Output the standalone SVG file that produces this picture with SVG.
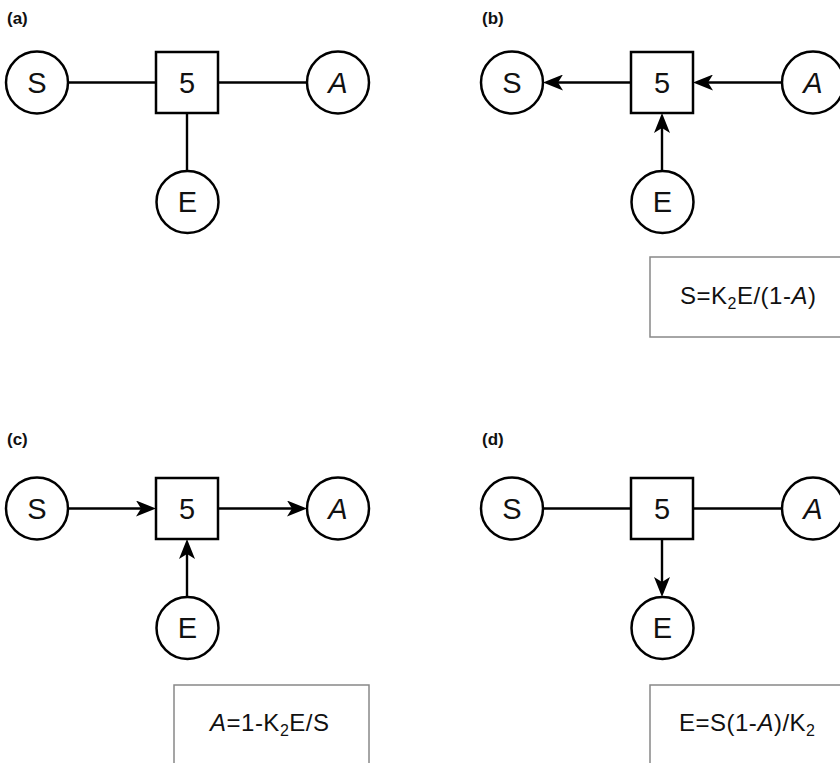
<svg xmlns="http://www.w3.org/2000/svg" width="840" height="763" viewBox="0 0 840 763">
<style>
.bg{fill:#fff}
.c{fill:#fff;stroke:#000;stroke-width:2.5}
.sq{fill:#fff;stroke:#000;stroke-width:2.5}
.ln{stroke:#000;stroke-width:2.4;fill:none}
.arr{marker-end:url(#ah)}
.nt{font-family:"Liberation Sans",Arial,sans-serif;font-size:29px;text-anchor:middle;fill:#111}
.it{font-style:italic}
.lab{font-family:"Liberation Sans",Arial,sans-serif;font-size:17px;font-weight:bold;fill:#111}
.box{fill:#fff;stroke:#888;stroke-width:1.5}
.eq{font-family:"Liberation Sans",Arial,sans-serif;font-size:24px;letter-spacing:0.5px;fill:#111}
</style>
<defs>
<marker id="ah" markerUnits="userSpaceOnUse" markerWidth="20" markerHeight="16" viewBox="0 0 20 16" refX="12" refY="8" orient="auto">
<path d="M0,0 L20,8 L0,16 L5,8 Z" fill="#000"/>
</marker>
</defs>
<rect class="bg" x="0" y="0" width="840" height="763"/>

<g id="connectors">
<!-- (a) -->
<line class="ln" x1="68" y1="82.5" x2="156" y2="82.5"/>
<line class="ln" x1="218" y1="82.5" x2="307" y2="82.5"/>
<line class="ln" x1="187" y1="113" x2="187" y2="171"/>
<!-- (b) -->
<line class="ln arr" x1="631" y1="82.5" x2="551" y2="82.5"/>
<line class="ln arr" x1="782" y1="82.5" x2="701" y2="82.5"/>
<line class="ln arr" x1="662" y1="171" x2="662" y2="121"/>
<!-- (c) -->
<line class="ln arr" x1="68" y1="508.5" x2="148" y2="508.5"/>
<line class="ln arr" x1="218" y1="508.5" x2="299" y2="508.5"/>
<line class="ln arr" x1="187" y1="597" x2="187" y2="547"/>
<!-- (d) -->
<line class="ln" x1="543" y1="508.5" x2="631" y2="508.5"/>
<line class="ln" x1="693" y1="508.5" x2="782" y2="508.5"/>
<line class="ln arr" x1="662" y1="539" x2="662" y2="589"/>
</g>

<g id="panel-a">
<text class="lab" x="7" y="24">(a)</text>
<g id="a-S"><circle class="c" cx="37" cy="82.5" r="31"/><text class="nt" x="37" y="93">S</text></g>
<g id="a-5"><rect class="sq" x="156" y="52" width="62" height="61"/><text class="nt" x="187" y="93">5</text></g>
<g id="a-A"><circle class="c" cx="338" cy="82.5" r="31"/><text class="nt it" x="338" y="93">A</text></g>
<g id="a-E"><circle class="c" cx="187.5" cy="202" r="31"/><text class="nt" x="187.5" y="212">E</text></g>
</g>

<g id="panel-b">
<text class="lab" x="482" y="24">(b)</text>
<g id="b-S"><circle class="c" cx="512" cy="82.5" r="31"/><text class="nt" x="512" y="93">S</text></g>
<g id="b-5"><rect class="sq" x="631" y="52" width="62" height="61"/><text class="nt" x="662" y="93">5</text></g>
<g id="b-A"><circle class="c" cx="813" cy="82.5" r="31"/><text class="nt it" x="813" y="93">A</text></g>
<g id="b-E"><circle class="c" cx="662.5" cy="202" r="31"/><text class="nt" x="662.5" y="212">E</text></g>
<g id="b-eq"><rect class="box" x="650" y="257" width="200" height="80"/>
<text class="eq" x="680" y="304">S=K<tspan font-size="16" dy="5">2</tspan><tspan dy="-5">E/(1-</tspan><tspan font-style="italic">A</tspan>)</text></g>
</g>

<g id="panel-c">
<text class="lab" x="7" y="445">(c)</text>
<g id="c-S"><circle class="c" cx="37" cy="508.5" r="31"/><text class="nt" x="37" y="519">S</text></g>
<g id="c-5"><rect class="sq" x="156" y="478" width="62" height="61"/><text class="nt" x="187" y="519">5</text></g>
<g id="c-A"><circle class="c" cx="338" cy="508.5" r="31"/><text class="nt it" x="338" y="519">A</text></g>
<g id="c-E"><circle class="c" cx="187.5" cy="628" r="31"/><text class="nt" x="187.5" y="638">E</text></g>
<g id="c-eq"><rect class="box" x="174" y="685" width="195" height="90"/>
<text class="eq" x="210" y="731"><tspan font-style="italic">A</tspan>=1-K<tspan font-size="16" dy="5">2</tspan><tspan dy="-5">E/S</tspan></text></g>
</g>

<g id="panel-d">
<text class="lab" x="482" y="445">(d)</text>
<g id="d-S"><circle class="c" cx="512" cy="508.5" r="31"/><text class="nt" x="512" y="519">S</text></g>
<g id="d-5"><rect class="sq" x="631" y="478" width="62" height="61"/><text class="nt" x="662" y="519">5</text></g>
<g id="d-A"><circle class="c" cx="813" cy="508.5" r="31"/><text class="nt it" x="813" y="519">A</text></g>
<g id="d-E"><circle class="c" cx="662.5" cy="628" r="31"/><text class="nt" x="662.5" y="638">E</text></g>
<g id="d-eq"><rect class="box" x="650" y="685" width="200" height="90"/>
<text class="eq" x="679" y="731">E=S(1-<tspan font-style="italic">A</tspan>)/K<tspan font-size="16" dy="5">2</tspan></text></g>
</g>
</svg>
